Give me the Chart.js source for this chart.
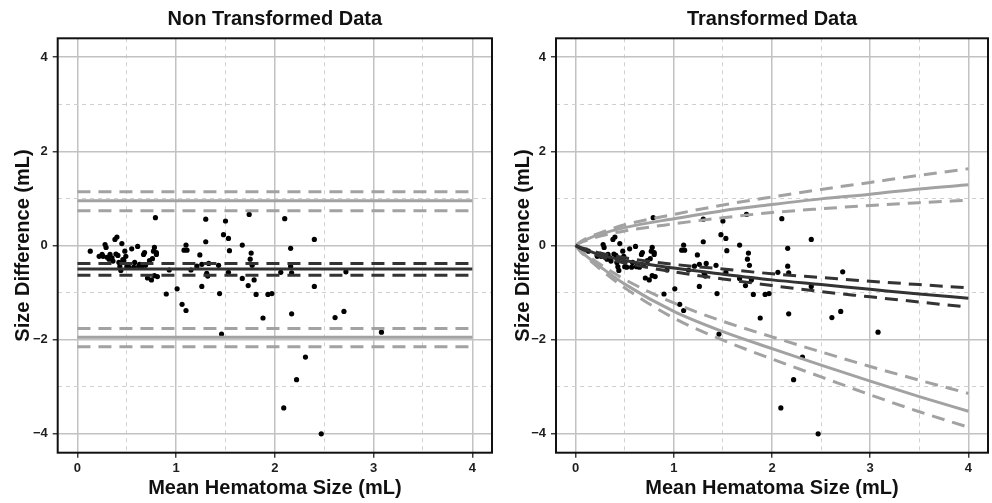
<!DOCTYPE html>
<html>
<head>
<meta charset="utf-8">
<script src="https://cdn.jsdelivr.net/npm/chart.js@4.4.1/dist/chart.umd.min.js"></script>
<style>
    html, body { margin: 0; padding: 0; background: #fff; }
    #wrap { position: relative; width: 992px; height: 503px; }
    canvas { position: absolute; top: 0; }
    #leftChart { left: 0; }
    #rightChart { left: 496px; }
</style>
</head>
<body>
<div id="wrap">
    <canvas id="leftChart" width="496" height="503"></canvas>
    <canvas id="rightChart" width="496" height="503"></canvas>
</div>
<script>
// observed points (same in both panels)
const meanSize = [
    0.13, 0.22, 0.25, 0.26, 0.28, 0.29, 0.30, 0.32, 0.33, 0.35,
    0.36, 0.38, 0.40, 0.39, 0.41, 0.42, 0.43, 0.44, 0.45, 0.46,
    0.47, 0.48, 0.49, 0.50, 0.52, 0.55, 0.57, 0.61, 0.62, 0.65,
    0.67, 0.68, 0.69, 0.71, 0.73, 0.75, 0.76, 0.77, 0.78, 0.78,
    0.79, 0.80, 0.80, 0.81, 0.58, 0.63,
    0.90, 0.93, 1.01, 1.06, 1.08, 1.10, 1.10, 1.11, 1.15, 1.21,
    1.24, 1.26, 1.26, 1.30, 1.30, 1.31, 1.32, 1.33, 1.43, 1.44,
    1.46, 1.48, 1.50, 1.53, 1.54, 1.53, 1.67, 1.67, 1.73, 1.74,
    1.75, 1.76, 1.77, 1.79, 1.81, 1.88, 1.93, 1.97, 2.06, 2.09,
    2.10, 2.16, 2.16, 2.17, 2.17, 2.22, 2.31, 2.40, 2.40, 2.47,
    2.61, 2.70, 2.72, 3.08
];
const sizeDiff = [
    -0.12, -0.23, -0.19, -0.23, 0.02, -0.04, -0.25, -0.29, -0.19, -0.26,
    -0.33, 0.13, 0.18, -0.18, -0.21, -0.36, -0.45, -0.53, 0.04, -0.30,
    -0.32, -0.12, -0.23, -0.45, -0.46, -0.07, -0.46, -0.02, -0.45, -0.46,
    -0.19, -0.15, -0.42, -0.69, -0.32, -0.73, -0.28, -0.12, -0.04, -0.64,
    0.59, -0.15, -0.19, -0.66, -0.36, -0.40,
    -1.03, -0.52, -0.92, -1.25, -0.10, 0.01, -1.38, -0.10, -0.52, -0.44,
    -0.20, -0.40, -0.87, 0.56, 0.08, -0.59, -0.65, -0.38, -0.42, -1.02,
    -1.88, 0.23, 0.52, 0.15, -0.11, -0.57, 0.01, -0.70, -0.85, 0.66,
    -0.29, -0.16, -0.42, -0.73, -1.04, -1.54, -1.04, -1.02, -0.57, -3.45,
    0.57, -0.06, -0.44, -0.58, -1.45, -2.85, -2.37, 0.13, -0.87, -4.00,
    -1.53, -1.40, -0.56, -1.84
];

// left panel: horizontal lines [estimate, ci high, ci low]
const lineSpan = [0, 4];
const biasFlat = [-0.50, -0.38, -0.63];
const upperFlat = [0.95, 1.14, 0.74];
const lowerFlat = [-1.95, -1.76, -2.15];

// right panel: back-transformed curves read at these x values
const curveX = [0, 0.05, 0.1, 0.25, 0.5, 1, 1.5, 2, 2.5, 3, 3.5, 4];
const upperCurve   = [0, 0.07, 0.12, 0.24, 0.38, 0.57, 0.74, 0.87, 0.99, 1.09, 1.20, 1.29];
const upperCurveHi = [0, 0.08, 0.14, 0.27, 0.44, 0.66, 0.86, 1.03, 1.19, 1.34, 1.49, 1.63];
const upperCurveLo = [0, 0.06, 0.10, 0.20, 0.31, 0.46, 0.59, 0.70, 0.78, 0.85, 0.91, 0.96];
const biasCurve    = [0, -0.05, -0.09, -0.20, -0.32, -0.48, -0.61, -0.73, -0.83, -0.93, -1.03, -1.12];
const biasCurveHi  = [0, -0.04, -0.07, -0.16, -0.26, -0.40, -0.50, -0.60, -0.68, -0.76, -0.83, -0.90];
const biasCurveLo  = [0, -0.06, -0.11, -0.23, -0.37, -0.56, -0.71, -0.85, -0.98, -1.09, -1.20, -1.31];
const lowerCurve   = [0, -0.12, -0.21, -0.45, -0.82, -1.40, -1.83, -2.19, -2.54, -2.88, -3.21, -3.52];
const lowerCurveHi = [0, -0.10, -0.18, -0.40, -0.72, -1.22, -1.61, -1.94, -2.26, -2.57, -2.86, -3.14];
const lowerCurveLo = [0, -0.13, -0.23, -0.50, -0.90, -1.54, -2.01, -2.41, -2.79, -3.17, -3.53, -3.86];

// axes
const xGrid = [0, 0.5, 1, 1.5, 2, 2.5, 3, 3.5, 4];
const yGrid = [-4, -3, -2, -1, 0, 1, 2, 3, 4];
const xTickLabels = ['0', '1', '2', '3', '4'];
const yTickLabels = ['\u22124', '\u22122', '0', '2', '4'];

const GRAY = '#a2a2a2';
const DARK = '#333333';
const DASH = [13, 8];
const FONT = "'Liberation Sans', Arial, sans-serif";

const points = meanSize.map((x, i) => ({ x: x, y: sizeDiff[i] }));

function flatLine(v, color, dashed) {
    return {
        data: lineSpan.map(x => ({ x: x, y: v })),
        showLine: true, pointRadius: 0, borderColor: color,
        borderWidth: 3, borderDash: dashed ? DASH : [], order: 1
    };
}

function curveLine(ys, color, dashed) {
    return {
        data: curveX.map((x, i) => ({ x: x, y: ys[i] })),
        showLine: true, pointRadius: 0, borderColor: color,
        borderWidth: 3, borderDash: dashed ? DASH : [],
        cubicInterpolationMode: 'monotone', order: 1
    };
}

const pointSet = {
    data: points, pointRadius: 2.6, pointBackgroundColor: '#000',
    pointBorderWidth: 0, showLine: false, order: 5
};

// box round the plot area
const frame = {
    id: 'frame',
    afterDraw(chart) {
        const a = chart.chartArea;
        const ctx = chart.ctx;
        ctx.save();
        ctx.strokeStyle = '#111';
        ctx.lineWidth = 2;
        ctx.strokeRect(a.left, a.top, a.right - a.left, a.bottom - a.top);
        ctx.restore();
    }
};

function isMajor(ctx, step) {
    if (!ctx.tick) return true;
    const v = ctx.tick.value;
    return Math.abs(v / step - Math.round(v / step)) < 1e-6;
}

function makePanel(id, title, datasets, axisW, padRight, yTitlePad) {
    new Chart(document.getElementById(id), {
        type: 'scatter',
        data: { datasets: datasets },
        plugins: [frame],
        options: {
            responsive: false,
            animation: false,
            layout: { padding: { left: 0, right: padRight, top: 0, bottom: 0 } },
            plugins: { legend: { display: false }, tooltip: { enabled: false } },
            scales: {
                x: {
                    type: 'linear', position: 'bottom', min: -0.2, max: 4.2,
                    afterBuildTicks: s => { s.ticks = xGrid.map(v => ({ value: v })); },
                    afterFit: s => { s.height = 50.3; },
                    ticks: {
                        autoSkip: false, maxRotation: 0, padding: 3, color: '#1e1e1e',
                        font: { family: FONT, size: 13, weight: 'bold' },
                        callback: v => Number.isInteger(v) ? xTickLabels[v] : ''
                    },
                    grid: {
                        color: c => isMajor(c, 1) ? '#c2c2c2' : '#cbcbcb',
                        lineWidth: c => isMajor(c, 1) ? 1.5 : 0.9,
                        tickColor: c => isMajor(c, 1) ? '#333' : 'rgba(0,0,0,0)',
                        tickLength: 5, tickWidth: 1.4
                    },
                    border: { display: false, dash: c => isMajor(c, 1) ? [] : [4, 4] },
                    title: {
                        display: true, text: 'Mean Hematoma Size (mL)', color: '#111',
                        font: { family: FONT, size: 20, weight: 'bold' },
                        padding: { top: 0, bottom: 3 }
                    }
                },
                xTop: {
                    type: 'linear', position: 'top', min: -0.2, max: 4.2,
                    afterFit: s => { s.height = 38.3; },
                    ticks: { display: false },
                    grid: { display: false },
                    border: { display: false },
                    title: {
                        display: true, text: title, color: '#111',
                        font: { family: FONT, size: 20, weight: 'bold' },
                        padding: { top: 7, bottom: 0 }
                    }
                },
                y: {
                    type: 'linear', position: 'left', min: -4.4, max: 4.4,
                    afterBuildTicks: s => { s.ticks = yGrid.map(v => ({ value: v })); },
                    afterFit: s => { s.width = axisW; },
                    ticks: {
                        autoSkip: false, padding: 5, color: '#1e1e1e',
                        font: { family: FONT, size: 13, weight: 'bold' },
                        callback: v => (v % 2 === 0) ? yTickLabels[(v + 4) / 2] : ''
                    },
                    grid: {
                        color: c => isMajor(c, 2) ? '#c2c2c2' : '#cbcbcb',
                        lineWidth: c => isMajor(c, 2) ? 1.5 : 0.9,
                        tickColor: c => isMajor(c, 2) ? '#333' : 'rgba(0,0,0,0)',
                        tickLength: 5, tickWidth: 1.4
                    },
                    border: { display: false, dash: c => isMajor(c, 2) ? [] : [4, 4] },
                    title: {
                        display: true, text: 'Size Difference (mL)', color: '#111',
                        font: { family: FONT, size: 20, weight: 'bold' },
                        padding: { top: yTitlePad, bottom: 0 }
                    }
                }
            }
        }
    });
}

makePanel('leftChart', 'Non Transformed Data', [
    flatLine(biasFlat[0], DARK, false),
    flatLine(biasFlat[1], DARK, true),
    flatLine(biasFlat[2], DARK, true),
    flatLine(upperFlat[0], GRAY, false),
    flatLine(upperFlat[1], GRAY, true),
    flatLine(upperFlat[2], GRAY, true),
    flatLine(lowerFlat[0], GRAY, false),
    flatLine(lowerFlat[1], GRAY, true),
    flatLine(lowerFlat[2], GRAY, true),
    pointSet
], 57.7, 4, 11.6);

makePanel('rightChart', 'Transformed Data', [
    curveLine(biasCurve, DARK, false),
    curveLine(biasCurveHi, DARK, true),
    curveLine(biasCurveLo, DARK, true),
    curveLine(upperCurve, GRAY, false),
    curveLine(upperCurveHi, GRAY, true),
    curveLine(upperCurveLo, GRAY, true),
    curveLine(lowerCurve, GRAY, false),
    curveLine(lowerCurveHi, GRAY, true),
    curveLine(lowerCurveLo, GRAY, true),
    Object.assign({}, pointSet, { data: points.slice() })
], 60, 2, 15);
</script>
</body>
</html>
